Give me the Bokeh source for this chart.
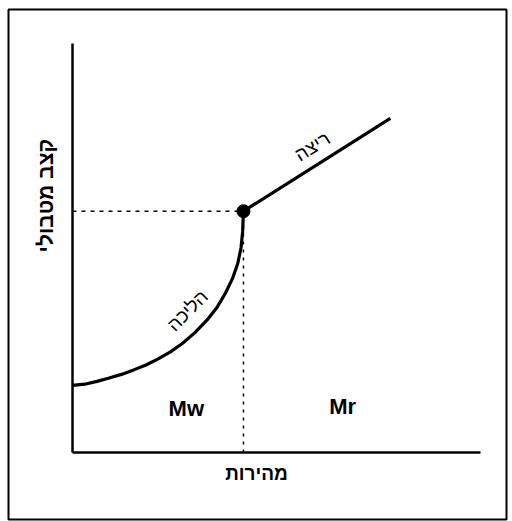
import math
from bokeh.plotting import figure
from bokeh.models import Range1d
from bokeh.core.properties import value
from bokeh.embed import file_html
from bokeh.resources import INLINE

# ---- data ----
walk_speed = [0.0, 0.3, 0.6, 0.9, 1.2, 1.5, 1.8, 2.1, 2.4, 2.7, 3.0, 3.3, 3.55, 3.75, 3.92, 4.05, 4.13, 4.17, 4.19]
walk_rate = [1.64, 1.67, 1.74, 1.82, 1.91, 2.02, 2.14, 2.29, 2.46, 2.67, 2.93, 3.24, 3.56, 3.9, 4.25, 4.62, 5.0, 5.4, 5.9]
run_speed = [4.19, 7.79]
run_rate = [5.9, 8.17]
transition_speed = 4.19
transition_rate = 5.9
axis_max_speed = 10.0
axis_max_rate = 10.0
x_title = "מהירות"
y_title = "קצב מטבולי"
walk_label = "הליכה"
run_label = "ריצה"
zone_labels = ["Mw", "Mr"]
zone_speed = [2.79, 6.62]
zone_rate = [1.08, 1.12]

# ---- layout ----
W, H = 508, 521
MB_L, MB_T, MB_R, MB_B = 8, 9, 2, 2
ORIGIN_PX = (72, 452)                # axis origin in canvas pixels
XSCALE, YSCALE = 40.8, 40.9          # pixels per unit
x0 = (MB_L - ORIGIN_PX[0]) / XSCALE
x1 = (W - MB_R - ORIGIN_PX[0]) / XSCALE
y0 = (ORIGIN_PX[1] - (H - MB_B)) / YSCALE
y1 = (ORIGIN_PX[1] - MB_T) / YSCALE

p = figure(width=W, height=H, output_backend="svg", toolbar_location=None,
           x_range=Range1d(x0, x1), y_range=Range1d(y0, y1),
           min_border_left=MB_L, min_border_right=MB_R,
           min_border_top=MB_T, min_border_bottom=MB_B)
p.xaxis.visible = False
p.yaxis.visible = False
p.xgrid.visible = False
p.ygrid.visible = False
p.outline_line_color = "black"
p.outline_line_width = 2
p.background_fill_color = "white"
p.border_fill_color = "white"

FONT = value("Liberation Sans")

# axes
p.line([0, 0], [0, axis_max_rate], line_color="black", line_width=2.5)
p.line([0, axis_max_speed], [0, 0], line_color="black", line_width=2.5)

# dashed guides
p.line([0, transition_speed], [transition_rate, transition_rate],
       line_color="black", line_width=1.5, line_dash="4 5")
p.line([transition_speed, transition_speed], [0, transition_rate],
       line_color="black", line_width=1.5, line_dash="3 5")

# walking & running curves
p.line(walk_speed, walk_rate, line_color="black", line_width=3.2, line_join="round")
p.line(run_speed, run_rate, line_color="black", line_width=3.2)
p.scatter([transition_speed], [transition_rate], size=13, color="black")

# curve labels
p.text([5.88], [7.48], text=[run_label], angle=math.radians(32),
       text_font=FONT, text_font_size="19px", text_align="center",
       text_baseline="middle", text_color="black")
p.text([2.82], [3.47], text=[walk_label], angle=math.radians(45),
       text_font=FONT, text_font_size="19px", text_align="center",
       text_baseline="middle", text_color="black")

# zone labels
p.text(zone_speed, zone_rate, text=zone_labels, text_font=FONT,
       text_font_size="22px", text_font_style="bold", text_align="center",
       text_baseline="middle", text_color="black")

# axis titles
p.text([4.51], [-0.51], text=[x_title], text_font=FONT,
       text_font_size="19px", text_font_style="bold", text_align="center",
       text_baseline="middle", text_color="black")
p.text([-0.66], [6.28], text=[y_title], angle=math.pi / 2, text_font=FONT,
       text_font_size="21px", text_font_style="bold", text_align="center",
       text_baseline="middle", text_color="black")

open("out.html", "w").write(file_html(p, INLINE))
